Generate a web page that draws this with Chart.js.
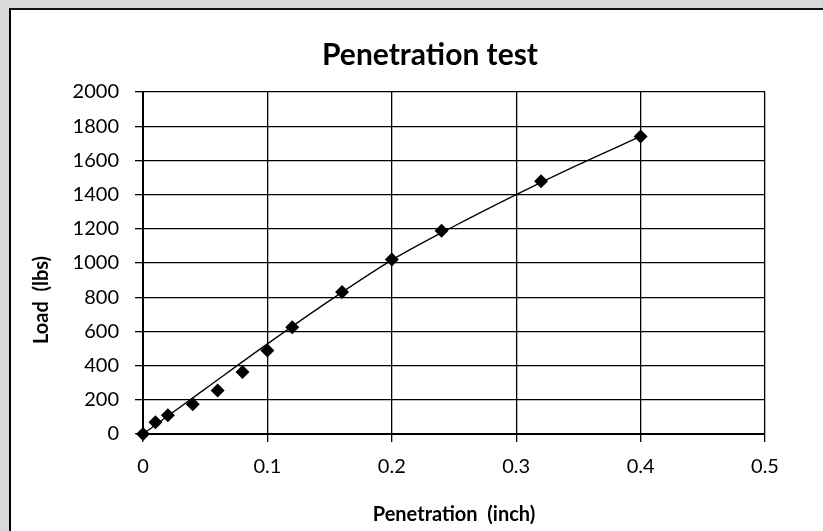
<!DOCTYPE html>
<html>
<head>
<meta charset="utf-8">
<script src="https://cdn.jsdelivr.net/npm/chart.js@4/dist/chart.umd.min.js"></script>
<style>
  html, body { margin: 0; padding: 0; }
  body { width: 823px; height: 531px; background: #d9d9d9; position: relative; overflow: hidden; }
  #frame { position: absolute; left: 9px; top: 8px; width: 840px; height: 540px; background: #fff;
           border-left: 2px solid #000; border-top: 2px solid #111; }
  #wrap { position: absolute; left: 0; top: 0; width: 823px; height: 531px; }
</style>
</head>
<body>
<div id="frame"></div>
<div id="wrap"><canvas id="c" width="823" height="531"></canvas></div>
<script>
const penetration = [0, 0.01, 0.02, 0.04, 0.06, 0.08, 0.10, 0.12, 0.16, 0.20, 0.24, 0.32, 0.40];
const load = [0, 68, 110, 174, 255, 362, 489, 625, 830, 1020, 1188, 1478, 1740];

// Trend line at regular positions
const trendX = [0, 0.05, 0.10, 0.15, 0.20, 0.25, 0.30, 0.35, 0.40];
const trendY = [0, 264, 527, 780, 1017, 1215, 1400, 1575, 1740];

// Tick labels
const xTickLabels = ['0', '0.1', '0.2', '0.3', '0.4', '0.5'];
const yTickLabels = ['0', '200', '400', '600', '800', '1000', '1200', '1400', '1600', '1800', '2000'];

const chartTitle = 'Penetration test';
const xTitle = 'Penetration  (inch)';
const yTitle = 'Load  (lbs)';

const FONT = 'Lato, "Open Sans", sans-serif';

const points = penetration.map((x, i) => ({ x: x, y: load[i] }));
const trend = trendX.map((x, i) => ({ x: x, y: trendY[i] }));

// Excel centres the titles on the whole chart frame, not on the plot
const frameTitles = {
  id: 'frameTitles',
  afterLayout(chart) {
    const t = chart.titleBlock;
    if (t) { t.left = 37; t.right = 823; t.width = t.right - t.left; }
  },
  afterDraw(chart) {
    const ctx = chart.ctx;
    ctx.save();
    ctx.translate(42, 300);
    ctx.rotate(-Math.PI / 2);
    ctx.fillStyle = '#000';
    ctx.font = 'bold 20px ' + FONT;
    ctx.textAlign = 'center';
    ctx.textBaseline = 'middle';
    ctx.fillText(yTitle, 0, 0);
    ctx.restore();
  }
};

new Chart(document.getElementById('c'), {
  type: 'scatter',
  data: {
    datasets: [
      {
        label: 'Load',
        data: points,
        pointStyle: 'rectRot',
        pointRadius: 7,
        pointBackgroundColor: '#000',
        pointBorderColor: '#000',
        pointBorderWidth: 0,
        showLine: false,
        clip: false,
        order: 1
      },
      {
        label: 'Trend',
        type: 'line',
        data: trend,
        borderColor: '#000',
        borderWidth: 1.3,
        pointRadius: 0,
        tension: 0.4,
        cubicInterpolationMode: 'monotone',
        fill: false,
        clip: false,
        order: 0
      }
    ]
  },
  plugins: [frameTitles],
  options: {
    responsive: false,
    animation: false,
    devicePixelRatio: 1,
    layout: { padding: { left: 0, right: 58, top: 0, bottom: 0 } },
    plugins: {
      legend: { display: false },
      tooltip: { enabled: false },
      title: {
        display: true,
        text: chartTitle,
        color: '#000',
        font: { family: FONT, size: 30, weight: 'bold', lineHeight: 1.2 },
        padding: { top: 37, bottom: 19 }
      }
    },
    scales: {
      x: {
        type: 'linear',
        min: 0,
        max: 0.5,
        afterBuildTicks: (s) => { s.ticks = xTickLabels.map((t) => ({ value: parseFloat(t) })); },
        afterFit: (s) => { s.height = 97; },
        ticks: {
          color: '#000',
          font: { family: FONT, size: 20 },
          padding: 13,
          maxRotation: 0,
          callback: (v, i) => xTickLabels[i]
        },
        grid: { color: '#000', lineWidth: 1.3, drawTicks: true, tickLength: 8, tickColor: '#000', tickWidth: 1.3 },
        border: { color: '#000', width: 2 },
        title: {
          display: true,
          text: xTitle,
          color: '#000',
          font: { family: FONT, size: 20, weight: 'bold', lineHeight: 1.2 },
          padding: { top: 0, bottom: 4 }
        }
      },
      y: {
        type: 'linear',
        min: 0,
        max: 2000,
        afterBuildTicks: (s) => { s.ticks = yTickLabels.map((t) => ({ value: parseFloat(t) })); },
        afterFit: (s) => { s.width = 143; },
        ticks: {
          color: '#000',
          font: { family: FONT, size: 20 },
          padding: 16,
          callback: (v, i) => yTickLabels[i]
        },
        grid: { color: '#000', lineWidth: 1.3, drawTicks: true, tickLength: 8, tickColor: '#000', tickWidth: 1.3 },
        border: { color: '#000', width: 2 },
        title: { display: false, text: yTitle }
      }
    }
  }
});
</script>
</body>
</html>
